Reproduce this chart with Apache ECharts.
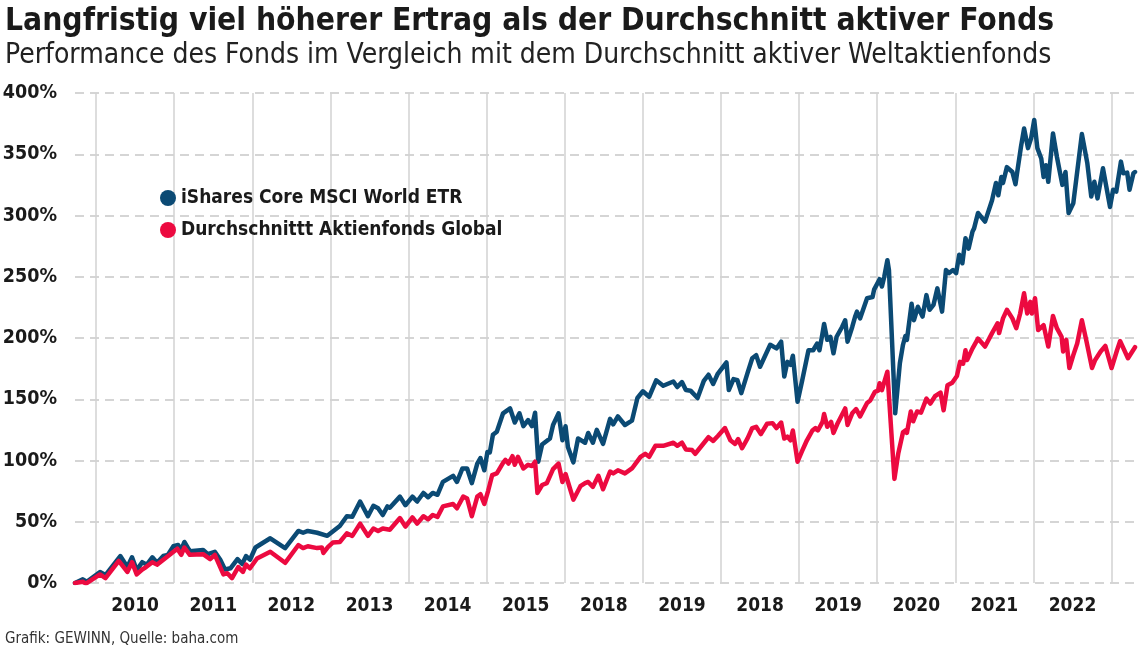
<!DOCTYPE html>
<html>
<head>
<meta charset="utf-8">
<script src="https://cdn.jsdelivr.net/npm/echarts@6/dist/echarts.min.js"></script>
<style>
html,body{margin:0;padding:0;background:#fff;}
#chart{width:1140px;height:653px;}
</style>
</head>
<body>
<div id="chart"></div>
<script>
const FONT = '"DejaVu Sans Condensed","Liberation Sans Narrow","Roboto",sans-serif';

const titleText = 'Langfristig viel höherer Ertrag als der Durchschnitt aktiver Fonds';
const subtitleText = 'Performance des Fonds im Vergleich mit dem Durchschnitt aktiver Weltaktienfonds';
const footerText = 'Grafik: GEWINN, Quelle: baha.com';
const seriesNames = ['iShares Core MSCI World ETR', 'Durchschnittt Aktienfonds Global'];

// Year boundaries (vertical grid) and label positions (mid-year) with their labels
const yearBounds = [2010, 2011, 2012, 2013, 2014, 2015, 2016, 2017, 2018, 2019, 2020, 2021, 2022, 2023];
const labelPositions = [2010.5, 2011.5, 2012.5, 2013.5, 2014.5, 2015.5, 2016.5, 2017.5, 2018.5, 2019.5, 2020.5, 2021.5, 2022.5];
const tickLabels = ['2010', '2011', '2012', '2013', '2014', '2015', '2018', '2019', '2018', '2019', '2020', '2021', '2022'];

// iShares Core MSCI World ETR (time in decimal years, performance in %)
const blueYears = [2009.73,2009.83,2009.88,2010.05,2010.12,2010.31,2010.40,2010.46,2010.52,2010.59,2010.65,2010.72,2010.78,2010.86,2010.92,2010.99,2011.05,2011.09,2011.13,2011.20,2011.37,2011.43,2011.52,2011.59,2011.65,2011.72,2011.81,2011.87,2011.92,2011.97,2012.04,2012.23,2012.42,2012.59,2012.65,2012.71,2012.83,2012.96,2013.12,2013.21,2013.28,2013.38,2013.48,2013.55,2013.61,2013.67,2013.73,2013.76,2013.89,2013.96,2014.05,2014.11,2014.19,2014.25,2014.31,2014.37,2014.44,2014.57,2014.62,2014.69,2014.75,2014.81,2014.88,2014.92,2014.97,2015.01,2015.04,2015.08,2015.13,2015.21,2015.30,2015.36,2015.42,2015.47,2015.53,2015.58,2015.62,2015.66,2015.71,2015.81,2015.85,2015.92,2015.97,2016.01,2016.04,2016.11,2016.17,2016.26,2016.30,2016.36,2016.41,2016.49,2016.58,2016.62,2016.68,2016.77,2016.86,2016.93,2017.00,2017.08,2017.17,2017.26,2017.39,2017.44,2017.50,2017.55,2017.61,2017.70,2017.78,2017.84,2017.90,2017.96,2018.07,2018.10,2018.16,2018.21,2018.26,2018.34,2018.40,2018.45,2018.50,2018.63,2018.71,2018.77,2018.81,2018.85,2018.89,2018.92,2018.98,2019.04,2019.12,2019.18,2019.23,2019.26,2019.30,2019.32,2019.36,2019.40,2019.44,2019.48,2019.55,2019.59,2019.62,2019.68,2019.72,2019.74,2019.78,2019.87,2019.94,2019.96,2020.03,2020.06,2020.09,2020.13,2020.15,2020.23,2020.29,2020.33,2020.36,2020.38,2020.44,2020.47,2020.52,2020.58,2020.63,2020.67,2020.72,2020.77,2020.83,2020.88,2020.92,2020.97,2021.01,2021.05,2021.09,2021.13,2021.17,2021.22,2021.24,2021.29,2021.38,2021.47,2021.52,2021.55,2021.59,2021.61,2021.66,2021.73,2021.77,2021.79,2021.84,2021.88,2021.93,2021.97,2022.01,2022.05,2022.10,2022.13,2022.16,2022.19,2022.25,2022.30,2022.37,2022.41,2022.45,2022.51,2022.62,2022.69,2022.74,2022.78,2022.82,2022.89,2022.98,2023.02,2023.06,2023.12,2023.15,2023.20,2023.23,2023.28,2023.30];
const blueValues = [0,3,1,9,6.5,22,13,21,10.5,17,15,21,16.5,22,23,30,31,27,33.5,26,27,23.5,25.5,19,11,12,19.5,15.5,22,19,29,36.5,28.5,42.5,41,42.5,41,38.5,46.5,54.5,54,66.5,54.5,63,61,55.5,62.5,61.5,70.5,63.5,70.5,66.5,73.5,70,73.5,72,82.5,87.5,82.5,93.5,93.5,81.5,97.5,102,92,107,106.5,121,123.5,138.5,142.5,131,138.5,128,133,128,139,99,113,118,129,138.5,116.5,128,111,98.5,118,114.5,122.5,114.5,125,113.5,134,129.5,136,129,132.5,151,156.5,152,165.5,161,164.5,160,164,157.5,157,151,165,170,162.5,171,180,157.5,166.5,165.5,155,171.5,183.5,186,176.5,194.5,191.5,197,168.5,180.5,178,185.5,148,165.5,190,190,195.5,190,204,211.5,198.5,201,187.5,201,209,214.5,197,209,218,221.5,216,232.5,233.5,239.5,248,242,250,263.5,255.5,138.5,179.5,194.5,201.5,198.5,228,214.5,225.5,217.5,235,223,227,240.5,221.5,255.5,253,255.5,253,268,261,281.5,273,287,289.5,302,295,312.5,326.5,316.5,331.5,326.5,339.5,335.5,325.5,334.5,356,371,355,363,378,355,346.5,331.5,341,327.5,367,348,325,335.5,302,310,366.5,342.5,315.5,327.5,314,338.5,307,321,319.5,344,334.5,335,321,334.5,335.5];

// Durchschnitt Aktienfonds Global (time in decimal years, performance in %)
const redYears = [2009.73,2009.83,2009.87,2010.05,2010.12,2010.29,2010.40,2010.46,2010.52,2010.59,2010.64,2010.72,2010.78,2010.91,2011.04,2011.09,2011.13,2011.20,2011.37,2011.46,2011.52,2011.63,2011.68,2011.74,2011.82,2011.88,2011.92,2011.97,2012.06,2012.23,2012.42,2012.59,2012.65,2012.71,2012.83,2012.89,2012.91,2012.97,2013.03,2013.12,2013.21,2013.28,2013.38,2013.48,2013.55,2013.61,2013.67,2013.76,2013.89,2013.96,2014.05,2014.11,2014.19,2014.25,2014.31,2014.37,2014.44,2014.57,2014.62,2014.70,2014.75,2014.81,2014.88,2014.92,2014.97,2015.02,2015.07,2015.13,2015.21,2015.24,2015.28,2015.33,2015.36,2015.40,2015.47,2015.53,2015.58,2015.62,2015.65,2015.71,2015.77,2015.85,2015.92,2015.97,2016.01,2016.11,2016.20,2016.26,2016.30,2016.36,2016.43,2016.49,2016.58,2016.62,2016.68,2016.77,2016.86,2016.97,2017.03,2017.08,2017.16,2017.26,2017.39,2017.44,2017.50,2017.55,2017.63,2017.67,2017.84,2017.90,2017.96,2018.05,2018.12,2018.18,2018.22,2018.27,2018.34,2018.40,2018.45,2018.51,2018.59,2018.66,2018.71,2018.77,2018.81,2018.85,2018.89,2018.92,2018.98,2019.04,2019.10,2019.17,2019.21,2019.24,2019.30,2019.32,2019.36,2019.41,2019.44,2019.49,2019.59,2019.62,2019.68,2019.73,2019.78,2019.87,2019.91,2019.97,2020.01,2020.03,2020.06,2020.09,2020.13,2020.22,2020.27,2020.33,2020.36,2020.38,2020.43,2020.46,2020.51,2020.56,2020.63,2020.68,2020.74,2020.81,2020.85,2020.90,2020.96,2021.02,2021.06,2021.10,2021.13,2021.15,2021.22,2021.29,2021.38,2021.47,2021.54,2021.56,2021.61,2021.66,2021.73,2021.78,2021.83,2021.88,2021.92,2021.96,2021.98,2022.02,2022.06,2022.13,2022.19,2022.25,2022.30,2022.36,2022.38,2022.42,2022.46,2022.51,2022.56,2022.62,2022.68,2022.70,2022.75,2022.79,2022.86,2022.92,2023.00,2023.07,2023.11,2023.21,2023.30];
const redValues = [0,1,-0.5,7,4,18,9,17,7,11,13,17,15,21.5,28,23,29,23,23.5,19.5,23,7,8,4,13,9,15,12,20,25.5,16.5,31,28.5,30,28.5,29,24.5,29.5,33,33.5,40.5,38.5,48.5,38.5,44.5,42.5,44.5,43.5,53,46,53.5,48.5,54.5,52,55.5,54,62.5,64.5,61,70.5,69,54.5,70.5,72.5,64.5,75.5,88,89.5,98,100.5,97.5,103.5,96.5,103,93.5,96.5,95.5,99,73.5,80,81.5,93,97.5,82.5,89,68,79,81.5,82.5,78.5,87.5,76.5,91,89.5,92,89.5,93.5,103,105.5,103,112,112,114.5,112,114.5,109,108.5,105.5,119,116,120,126.5,116.5,113.5,117.5,110,118,126.5,127.5,121.5,130,130.5,126.5,131,118,119.5,116.5,124.5,99,108,116.5,124.5,126.5,124.5,131.5,138,127.5,131.5,122.5,130,142.5,129,138.5,142,136,147,149,156,157,163,157.5,164,172.5,85,106,123,124.5,122.5,140,132,140,139,150.5,146.5,152.5,155.5,141,161.5,163.5,169,180.5,179,190,182,191.5,199.5,193,204,212,204,216,223,216,208,220,236.5,220,229.5,220,232.5,206.5,210.5,193,218,208,201,189,198.5,175.5,186,195.5,214.5,197,195.5,175.5,182,189,193.5,175.5,190,197.5,183.5,192.5];

const yTicks = { min: 0, max: 400, interval: 50 };

function zip(xs, ys) { return xs.map((x, i) => [x, ys[i]]); }

const chart = echarts.init(document.getElementById('chart'), null, { renderer: 'canvas' });
chart.setOption({
  animation: false,
  backgroundColor: '#ffffff',
  title: [
    {
      text: titleText,
      subtext: subtitleText,
      left: 5, top: 6,
      padding: 0,
      itemGap: 4,
      textStyle: { fontFamily: FONT, fontWeight: 'bold', fontSize: 31.5, color: '#1a1a1a' },
      subtextStyle: { fontFamily: FONT, fontWeight: 'normal', fontSize: 28, color: '#222' }
    },
    {
      text: footerText,
      left: 5, top: 632,
      padding: 0,
      textStyle: { fontFamily: FONT, fontWeight: 'normal', fontSize: 15, color: '#333' }
    }
  ],
  legend: {
    orient: 'vertical',
    left: 160, top: 187,
    padding: 0,
    itemWidth: 16, itemHeight: 16, itemGap: 10,
    icon: 'circle',
    textStyle: { fontFamily: FONT, fontWeight: 'bold', fontSize: 19, lineHeight: 22, color: '#1a1a1a' },
    data: seriesNames
  },
  grid: { left: 75, right: 5, top: 93, bottom: 70, containLabel: false, outerBoundsMode: 'none' },
  xAxis: {
    type: 'value',
    min: 2009.73, max: 2023.30,
    axisLine: { show: false },
    axisTick: { show: false, customValues: yearBounds },
    splitLine: { show: true, lineStyle: { color: '#d2d2d2', width: 1.5, type: 'solid' } },
    axisLabel: {
      customValues: labelPositions,
      formatter: (v) => { const i = labelPositions.indexOf(v); return i >= 0 ? tickLabels[i] : ''; },
      margin: 14,
      fontFamily: FONT, fontWeight: 'bold', fontSize: 19, color: '#1a1a1a'
    }
  },
  yAxis: {
    type: 'value',
    min: yTicks.min, max: yTicks.max, interval: yTicks.interval,
    axisLine: { show: false },
    axisTick: { show: false },
    splitLine: { show: true, lineStyle: { color: '#c8c8c8', width: 1.5, type: [9, 6] } },
    axisLabel: {
      formatter: '{value}%',
      margin: 18,
      fontFamily: FONT, fontWeight: 'bold', fontSize: 19.5, color: '#1a1a1a'
    }
  },
  series: [
    {
      name: seriesNames[0], type: 'line', showSymbol: false, symbol: 'none',
      color: '#0b4a74',
      lineStyle: { width: 4.5, color: '#0b4a74', join: 'round', cap: 'round' },
      data: zip(blueYears, blueValues)
    },
    {
      name: seriesNames[1], type: 'line', showSymbol: false, symbol: 'none',
      color: '#ec0a40',
      lineStyle: { width: 4.5, color: '#ec0a40', join: 'round', cap: 'round' },
      data: zip(redYears, redValues)
    }
  ]
});
</script>
</body>
</html>
